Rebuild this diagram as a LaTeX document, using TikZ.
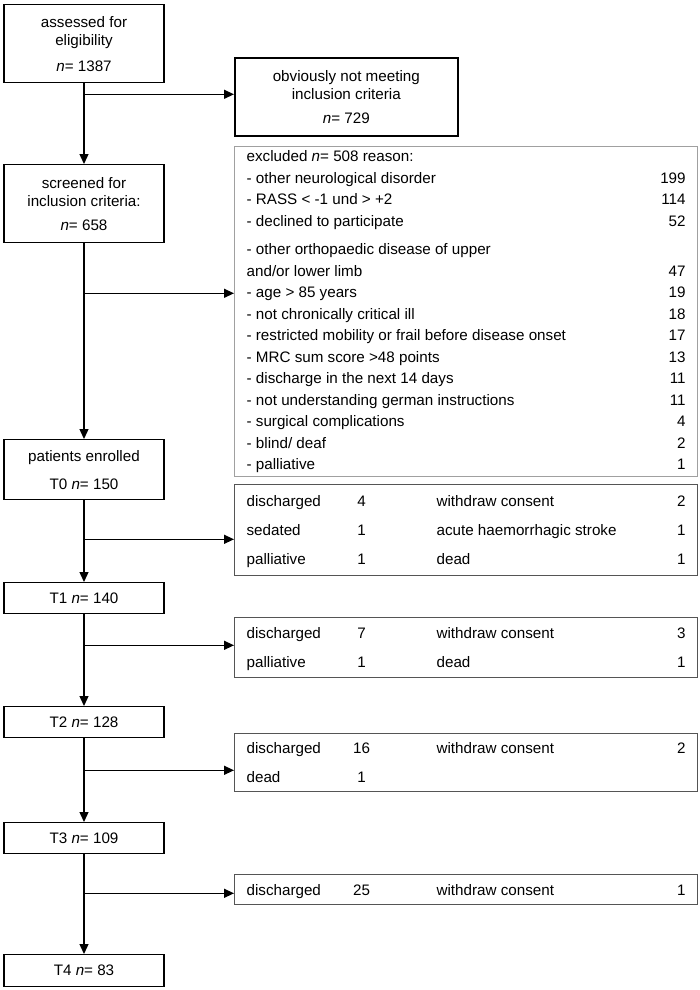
\documentclass[tikz,border=0pt]{standalone}
\usepackage{fontspec}
\setmainfont{Liberation Sans}
\usepackage{array}
\usetikzlibrary{arrows.meta}
\newcommand{\nn}{\textit{n}}
\newcommand{\losstab}[1]{\begin{tabular*}{439pt}{@{}p{100pt}@{}wc{30pt}@{\hspace{60pt}}l@{\extracolsep{\fill}}r@{}}#1\end{tabular*}}
\tikzstyle{stage} = [draw=black, line width=1.3pt, minimum width=160pt, align=center, inner sep=0pt, anchor=north]
\tikzstyle{notmet} = [draw=black, line width=1.6pt, minimum width=223pt, minimum height=78pt, align=center, inner sep=0pt, anchor=north west]
\tikzstyle{reasons} = [draw=rim, line width=1.3pt, inner xsep=12pt, inner ysep=0pt, minimum width=463pt, anchor=north west, font=\fontsize{15.2}{21.5}\selectfont]
\tikzstyle{loss} = [draw=edge, line width=1.2pt, inner xsep=12pt, inner ysep=0pt, minimum width=463pt, anchor=north west, font=\fontsize{15.2}{29}\selectfont]
\tikzstyle{flow} = [line width=1.3pt, -{Triangle[length=10pt,width=9pt]}]
\definecolor{rim}{RGB}{160,160,160}
\definecolor{edge}{RGB}{85,85,85}

\begin{document}
\begin{tikzpicture}[x=1pt, y=-1pt, font=\fontsize{15.2}{18}\selectfont]
	\useasboundingbox (0,0) rectangle (700,990);

	% left column
	\node (assess) [stage, minimum height=78pt] at (84,4) {assessed for\\eligibility\\[8pt]\nn= 1387};
	\node (screen) [stage, minimum height=78pt] at (84,164) {screened for\\inclusion criteria:\\[6pt]\nn= 658};
	\node (enrol) [stage, minimum height=60pt] at (84,439) {patients enrolled\\[10pt]T0 \nn= 150};
	\node (t1) [stage, minimum height=31pt] at (84,582) {T1 \nn= 140};
	\node (t2) [stage, minimum height=31pt] at (84,706) {T2 \nn= 128};
	\node (t3) [stage, minimum height=31pt] at (84,822) {T3 \nn= 109};
	\node (t4) [stage, minimum height=32pt] at (84,954) {T4 \nn= 83};

	% right column
	\node (out) [notmet] at (234,57) {obviously not meeting\\inclusion criteria\\[6pt]\nn= 729};
	\node (excl) [reasons, minimum height=328pt] at (234,146) {\begin{tabular*}{439pt}{@{}l@{\extracolsep{\fill}}r@{}}
		excluded \nn= 508 reason: & \\
		- other neurological disorder & 199\\
		- RASS < -1 und > +2 & 114\\
		- declined to participate & 52\\[7pt]
		- other orthopaedic disease of upper & \\
		and/or lower limb & 47\\
		- age > 85 years & 19\\
		- not chronically critical ill & 18\\
		- restricted mobility or frail before disease onset & 17\\
		- MRC sum score >48 points & 13\\
		- discharge in the next 14 days & 11\\
		- not understanding german instructions & 11\\
		- surgical complications & 4\\
		- blind/ deaf & 2\\
		- palliative & 1
	\end{tabular*}};
	\node (loss0) [loss, minimum height=91pt] at (234,484) {\losstab{discharged & 4 & withdraw consent & 2\\ sedated & 1 & acute haemorrhagic stroke & 1\\ palliative & 1 & dead & 1}};
	\node (loss1) [loss, minimum height=60pt] at (234,617) {\losstab{discharged & 7 & withdraw consent & 3\\ palliative & 1 & dead & 1}};
	\node (loss2) [loss, minimum height=54pt] at (234,733) {\losstab{discharged & 16 & withdraw consent & 2\\ dead & 1 & & }};
	\node (loss3) [loss, minimum height=30pt] at (234,874) {\losstab{discharged & 25 & withdraw consent & 1}};

	% branch points
	\coordinate (b0) at ([yshift=-11pt]assess.south);
	\coordinate (b1) at ([yshift=-50pt]screen.south);
	\coordinate (b2) at ([yshift=-39pt]enrol.south);
	\coordinate (b3) at ([yshift=-31pt]t1.south);
	\coordinate (b4) at ([yshift=-32pt]t2.south);
	\coordinate (b5) at ([yshift=-39pt]t3.south);

	\draw[flow] (assess.south) -- (screen.north);
	\draw[flow] (screen.south) -- (enrol.north);
	\draw[flow] (enrol.south) -- (t1.north);
	\draw[flow] (t1.south) -- (t2.north);
	\draw[flow] (t2.south) -- (t3.north);
	\draw[flow] (t3.south) -- (t4.north);

	\draw[flow] (b0) -- (b0 -| out.west);
	\draw[flow] (b1) -- (b1 -| excl.west);
	\draw[flow] (b2) -- (b2 -| loss0.west);
	\draw[flow] (b3) -- (b3 -| loss1.west);
	\draw[flow] (b4) -- (b4 -| loss2.west);
	\draw[flow] (b5) -- (b5 -| loss3.west);
\end{tikzpicture}
\end{document}
